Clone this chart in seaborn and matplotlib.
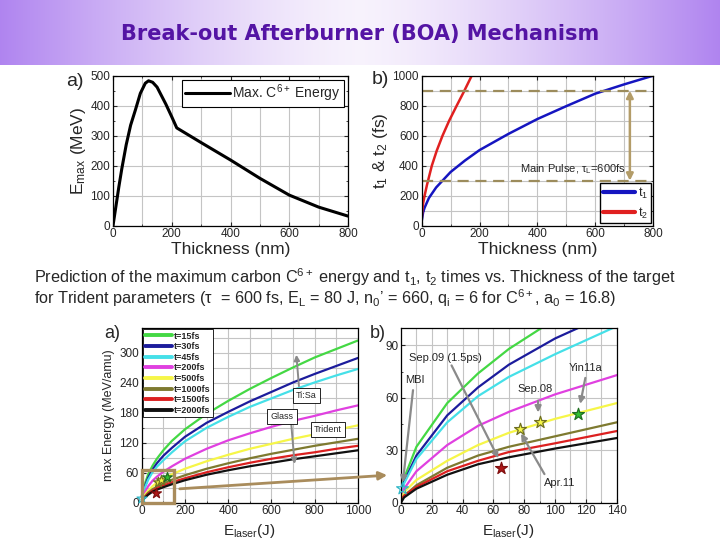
import numpy as np
import pandas as pd
import matplotlib
matplotlib.use('Agg')
import matplotlib.pyplot as plt
from matplotlib import ticker as mticker
from matplotlib.patches import Rectangle, FancyArrowPatch
import seaborn as sns

# ---- top a): max carbon energy vs thickness
thick_a = [0, 10, 20, 30, 45, 60, 76, 93, 110, 121, 135, 150, 161, 180, 200, 217,
           300, 400, 500, 600, 700, 800]
emax = [0, 65, 130, 190, 270, 335, 385, 441, 475, 483, 478, 462, 441, 405, 363, 326,
        277, 219, 158, 102, 62, 32]

# ---- top b): t1, t2 vs thickness
thick_t1 = [0, 5, 10, 25, 50, 100, 150, 200, 300, 400, 500, 600, 700, 800]
t1 = [30, 90, 120, 185, 255, 358, 435, 504, 612, 711, 797, 880, 942, 1000]
thick_t2 = [0, 2, 5, 10, 18, 35, 52, 72, 95, 121, 145, 173]
t2 = [40, 100, 150, 200, 270, 400, 500, 600, 700, 800, 890, 1000]

# ---- bottom: max energy vs laser energy
e_laser = [0, 2, 10, 30, 50, 70, 100, 140, 200, 300, 400, 500, 600, 700, 800, 900, 1000]
pulse_labels = ['t=15fs', 't=30fs', 't=45fs', 't=200fs', 't=500fs', 't=1000fs',
                't=1500fs', 't=2000fs']
pulse_colors = ['#44d844', '#1c1c9c', '#45e0e8', '#e040e0', '#f6f648', '#7e7a30',
                '#dc2020', '#111111']
energy_15 = [3, 14, 32, 57, 74, 88, 105, 124, 147, 178, 204, 228, 250, 271, 291, 308, 325]
energy_30 = [3, 12, 27, 50, 66, 79, 94, 110, 132, 160, 182, 203, 222, 241, 258, 274, 290]
energy_45 = [3, 11, 25, 46, 61, 72, 85, 101, 123, 150, 172, 192, 209, 226, 241, 255, 268]
energy_200 = [2, 8, 18, 33, 44, 52, 62, 73, 88, 108, 125, 139, 152, 164, 174, 185, 195]
energy_500 = [1, 6, 13, 24, 33, 40, 48, 57, 68, 83, 96, 108, 118, 128, 137, 146, 155]
energy_1000 = [1, 4, 10, 20, 27, 32, 38, 46, 55, 68, 79, 89, 98, 106, 114, 121, 128]
energy_1500 = [1, 4, 9, 18, 24, 29, 34, 41, 49, 61, 71, 80, 88, 95, 101, 108, 114]
energy_2000 = [0, 3, 8, 16, 22, 26, 31, 37, 45, 56, 65, 73, 80, 87, 93, 99, 105]
energies = [energy_15, energy_30, energy_45, energy_200, energy_500, energy_1000,
            energy_1500, energy_2000]

# experiments (stars)
exp_names = ['MBI', 'Sep.09 (1.5ps)', 'Apr.11', 'Sep.08', 'Yin11a']
exp_x = [1, 65, 77, 90, 115]
exp_y = [8, 20, 42, 46, 51]
exp_face = ['none', '#b01818', '#f6f648', '#f6f648', '#30c030']
exp_edge = ['#30b8c8', '#801010', '#707020', '#707020', '#207020']

sns.set_style('ticks')
plt.rcParams['font.family'] = ['Liberation Sans', 'DejaVu Sans']
plt.rcParams['mathtext.fontset'] = 'custom'
plt.rcParams['mathtext.rm'] = 'Liberation Sans'
plt.rcParams['mathtext.it'] = 'Liberation Sans:italic'
plt.rcParams['mathtext.bf'] = 'Liberation Sans:bold'
plt.rcParams['xtick.direction'] = 'in'
plt.rcParams['ytick.direction'] = 'in'

fig = plt.figure(figsize=(7.2, 5.4), dpi=100)
fig.patch.set_facecolor('white')

# header band with gradient
hdr = fig.add_axes([0, 1 - 65 / 540, 1, 65 / 540], zorder=-5)
gx = np.linspace(-1, 1, 400)
w = np.abs(gx) ** 1.4
edge = np.array([0.69, 0.52, 0.94])
mid = np.array([0.97, 0.95, 0.99])
grad = mid[None, :] * (1 - w[:, None]) + edge[None, :] * w[:, None]
hdr.imshow(grad[None, :, :], aspect='auto', extent=[0, 1, 0, 1])
hdr.axis('off')
fig.text(0.5, 1 - 34 / 540, 'Break-out Afterburner (BOA) Mechanism', ha='center',
         va='center', fontsize=15, fontweight='bold', color='#5414a4',
         family=['DejaVu Sans'])

grid_kw = dict(color='#c4c4c4', linewidth=0.8)

# ---------------- top a)
ax1 = fig.add_axes([113 / 720, 1 - 225.7 / 540, 235 / 720, 150 / 540])
sns.lineplot(x=thick_a, y=emax, ax=ax1, color='black', linewidth=2.2,
             label='Max. C$^{6+}$ Energy', sort=False)
ax1.set_xlim(0, 800)
ax1.set_ylim(0, 500)
ax1.xaxis.set_major_locator(mticker.MultipleLocator(200))
ax1.xaxis.set_minor_locator(mticker.MultipleLocator(100))
ax1.yaxis.set_major_locator(mticker.MultipleLocator(100))
ax1.yaxis.set_minor_locator(mticker.MultipleLocator(50))
ax1.grid(True, which='major', **grid_kw)
ax1.grid(True, which='minor', axis='x', **grid_kw)
ax1.tick_params(labelsize=8.5, top=True, right=True, length=3, pad=2)
ax1.tick_params(which='minor', top=True, right=True, length=1.5)
ax1.set_xlabel('Thickness (nm)', fontsize=12.5, labelpad=1)
ax1.set_ylabel('E$_{\\mathrm{max}}$ (MeV)', fontsize=12.5, labelpad=2)
leg = ax1.legend(loc='upper right', fontsize=10, frameon=True, fancybox=False,
                 framealpha=1, edgecolor='black', handlelength=3.2,
                 borderpad=0.2, handletextpad=0.2, borderaxespad=0.3)
leg.get_frame().set_linewidth(0.8)
fig.text(66 / 720, 1 - 82 / 540, 'a)', fontsize=14, va='center')

# ---------------- top b)
ax2 = fig.add_axes([421.7 / 720, 1 - 225.7 / 540, 231.3 / 720, 150 / 540])
sns.lineplot(x=thick_t1, y=t1, ax=ax2, color='#1515c0', linewidth=1.8, label='t$_1$',
             sort=False)
sns.lineplot(x=thick_t2, y=t2, ax=ax2, color='#e02020', linewidth=1.8, label='t$_2$',
             sort=False)
for yv in (900, 300):
    ax2.axhline(yv, color='#9c8c5c', linewidth=1.6, dashes=(5, 3))
ax2.annotate('', xy=(720, 900), xytext=(720, 300),
             arrowprops=dict(arrowstyle='<|-|>', color='#b39c68', lw=1.8,
                             mutation_scale=10, shrinkA=0, shrinkB=0))
ax2.text(340, 378, 'Main Pulse, τ$_\\mathrm{L}$=600fs', fontsize=8, va='center')
ax2.set_xlim(0, 800)
ax2.set_ylim(0, 1000)
ax2.xaxis.set_major_locator(mticker.MultipleLocator(200))
ax2.xaxis.set_minor_locator(mticker.MultipleLocator(100))
ax2.yaxis.set_major_locator(mticker.MultipleLocator(200))
ax2.yaxis.set_minor_locator(mticker.MultipleLocator(100))
ax2.grid(True, which='both', **grid_kw)
ax2.tick_params(labelsize=8.5, top=True, right=True, length=3, pad=2)
ax2.tick_params(which='minor', top=True, right=True, length=1.5)
ax2.set_xlabel('Thickness (nm)', fontsize=12.5, labelpad=1)
ax2.set_ylabel('t$_\\mathrm{1}$ & t$_\\mathrm{2}$ (fs)', fontsize=12.5, labelpad=2)
leg = ax2.legend(loc='lower right', fontsize=9, frameon=True, fancybox=False,
                 framealpha=1, edgecolor='black', handlelength=2.6,
                 borderpad=0.2, handletextpad=0.2, borderaxespad=0.2,
                 labelspacing=0.4)
leg.get_frame().set_linewidth(1.0)
for h in leg.get_lines():
    h.set_linewidth(3)
fig.text(372 / 720, 1 - 80 / 540, 'b)', fontsize=14, va='center')

# caption
fig.text(34 / 720, 1 - 277 / 540,
         'Prediction of the maximum carbon C$^{\\mathrm{6+}}$ energy and t$_\\mathrm{1}$, '
         't$_\\mathrm{2}$ times vs. Thickness of the target',
         fontsize=11.7, va='center')
fig.text(34 / 720, 1 - 298 / 540,
         'for Trident parameters (τ  = 600 fs, E$_\\mathrm{L}$ = 80 J, '
         'n$_\\mathrm{0}$’ = 660, q$_\\mathrm{i}$ = 6 for C$^{\\mathrm{6+}}$, '
         'a$_\\mathrm{0}$ = 16.8)',
         fontsize=11.7, va='center')

# ---------------- bottom a) and b)
ax3 = fig.add_axes([141.7 / 720, 1 - 502.7 / 540, 216.3 / 720, 174.7 / 540])
ax4 = fig.add_axes([401 / 720, 1 - 502.7 / 540, 215.7 / 720, 174.7 / 540])
for vals, lab, col in zip(energies, pulse_labels, pulse_colors):
    sns.lineplot(x=e_laser, y=vals, ax=ax3, color=col, linewidth=1.6, label=lab,
                 sort=False)
    sns.lineplot(x=e_laser, y=vals, ax=ax4, color=col, linewidth=1.6, legend=False,
                 sort=False)

for ax, size in ((ax3, 55), (ax4, 80)):
    for x, y, fc, ec in zip(exp_x, exp_y, exp_face, exp_edge):
        ax.scatter(x, y, marker='*', s=size, facecolors=fc, edgecolors=ec,
                   linewidths=0.9, zorder=5, clip_on=False)

ax3.set_xlim(0, 1000)
ax3.set_ylim(0, 350)
ax3.xaxis.set_major_locator(mticker.MultipleLocator(200))
ax3.xaxis.set_minor_locator(mticker.MultipleLocator(100))
ax3.yaxis.set_major_locator(mticker.MultipleLocator(60))
ax3.yaxis.set_minor_locator(mticker.MultipleLocator(30))
ax3.grid(True, which='both', **grid_kw)
ax3.tick_params(labelsize=8.5, length=3, pad=2)
ax3.tick_params(which='minor', length=1.5)
ax3.set_xlabel('E$_{\\mathrm{laser}}$(J)', fontsize=11, labelpad=3)
ax3.set_ylabel('max Energy (MeV/amu)', fontsize=9, labelpad=3)
leg = ax3.legend(loc='upper left', frameon=True, fancybox=False,
                 framealpha=1, edgecolor='black', handlelength=3.0,
                 borderpad=0.25, handletextpad=0.2, borderaxespad=0.15,
                 labelspacing=0.18, prop={'weight': 'bold', 'size': 6.5})
leg.get_frame().set_linewidth(0.6)
for h in leg.get_lines():
    h.set_linewidth(2.8)
ax3.add_patch(Rectangle((0, 0), 150, 66, fill=False, edgecolor='#a98c5c',
                        linewidth=2.4, clip_on=False, zorder=6))
box_kw = dict(boxstyle='square,pad=0.35', fc='white', ec='black', lw=0.6)
arrow_gray = dict(arrowstyle='-|>', color='#8a8a8a', lw=1.4, mutation_scale=8)
ax3.annotate('', xy=(708, 72), xytext=(690, 165), arrowprops=arrow_gray)
ax3.annotate('', xy=(714, 302), xytext=(728, 228), arrowprops=arrow_gray)
ax3.text(762, 215, 'Ti:Sa', fontsize=6.5, ha='center', va='center', bbox=box_kw)
ax3.text(648, 173, 'Glass', fontsize=6.5, ha='center', va='center', bbox=box_kw)
ax3.text(862, 146, 'Trident', fontsize=6.5, ha='center', va='center', bbox=box_kw)
fig.text(104 / 720, 1 - 333 / 540, 'a)', fontsize=13, va='center')

ax4.set_xlim(0, 140)
ax4.set_ylim(0, 100)
ax4.xaxis.set_major_locator(mticker.MultipleLocator(20))
ax4.xaxis.set_minor_locator(mticker.MultipleLocator(10))
ax4.yaxis.set_major_locator(mticker.MultipleLocator(30))
ax4.yaxis.set_minor_locator(mticker.MultipleLocator(15))
ax4.grid(True, which='major', **grid_kw)
ax4.grid(True, which='minor', axis='x', **grid_kw)
ax4.tick_params(labelsize=8.5, length=3, pad=2)
ax4.tick_params(which='minor', length=1.5)
ax4.set_xlabel('E$_{\\mathrm{laser}}$(J)', fontsize=11, labelpad=3)
ax4.set_ylabel('')
ann_txt = [(9, 70), (29, 83), (103, 11), (87, 65), (120, 77)]
ann_from = [(8, 66), (32, 80), (94, 15), (89, 60), (120, 73)]
ann_tip = [(1, 10), (64, 24), (77, 41), (89, 50), (116, 55)]
for name, (tx, ty), (fx, fy), tip in zip(exp_names, ann_txt, ann_from, ann_tip):
    ax4.text(tx, ty, name, fontsize=8, ha='center', va='center')
    ax4.annotate('', xy=tip, xytext=(fx, fy),
                 arrowprops=dict(arrowstyle='-|>', color='#8a8a8a', lw=1.6,
                                 mutation_scale=9))
fig.text(370 / 720, 1 - 333 / 540, 'b)', fontsize=13, va='center')

# connector from zoom box to panel b)
fig.add_artist(FancyArrowPatch((177 / 720, 1 - 489 / 540), (390 / 720, 1 - 475 / 540),
                               transform=fig.transFigure, arrowstyle='-|>',
                               mutation_scale=12, color='#a98c5c', lw=2))

for ax in (ax1, ax2, ax3, ax4):
    for s in ax.spines.values():
        s.set_linewidth(0.9)
        s.set_color('black')

fig.savefig('out.png', dpi=100)
